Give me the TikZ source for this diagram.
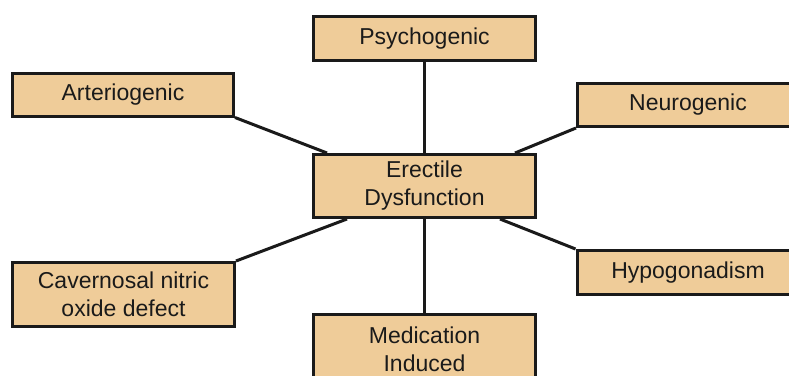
\documentclass[tikz,border=0pt]{standalone}
\usepackage{fontspec}
\setmainfont{Liberation Sans}
\definecolor{boxfill}{RGB}{239,204,153}
\definecolor{ink}{RGB}{26,26,26}
\begin{document}
\begin{tikzpicture}[x=1pt,y=-1pt,
  box/.style={draw=ink,fill=boxfill,line width=3pt,inner sep=0pt,align=center,
    text=ink,font=\fontsize{23}{28}\selectfont},
  link/.style={draw=ink,line width=3pt}]
\useasboundingbox (0,0) rectangle (789,375);
\clip (0,0) rectangle (789,375);
\fill[white] (0,0) rectangle (789,375);
\node[box,minimum width=222,minimum height=44] (psy) at (424.5,38.5) {Psychogenic};
\node[box,minimum width=221,minimum height=43] (art) at (123,94.5) {Arteriogenic};
\node[box,minimum width=221,minimum height=43] (neu) at (688,105) {Neurogenic};
\node[box,minimum width=222,minimum height=63] (ed) at (424.5,186) {Erectile\\Dysfunction};
\node[box,minimum width=222,minimum height=64] (cav) at (123.5,294.5) {Cavernosal nitric\\oxide defect};
\node[box,minimum width=222,minimum height=44] (hyp) at (688,272.5) {Hypogonadism};
\node[box,minimum width=222,minimum height=69] (med) at (424.5,349) {Medication\\Induced};
\draw[link] (psy.south) -- (ed.north);
\draw[link] (ed.south) -- (med.north);
\draw[link] (art.south east) -- ([xshift=15pt]ed.north west);
\draw[link] (neu.south west) -- ([xshift=-22pt]ed.north east);
\draw[link] (cav.north east) -- ([xshift=35pt]ed.south west);
\draw[link] (hyp.north west) -- ([xshift=-37pt]ed.south east);
\end{tikzpicture}
\end{document}
